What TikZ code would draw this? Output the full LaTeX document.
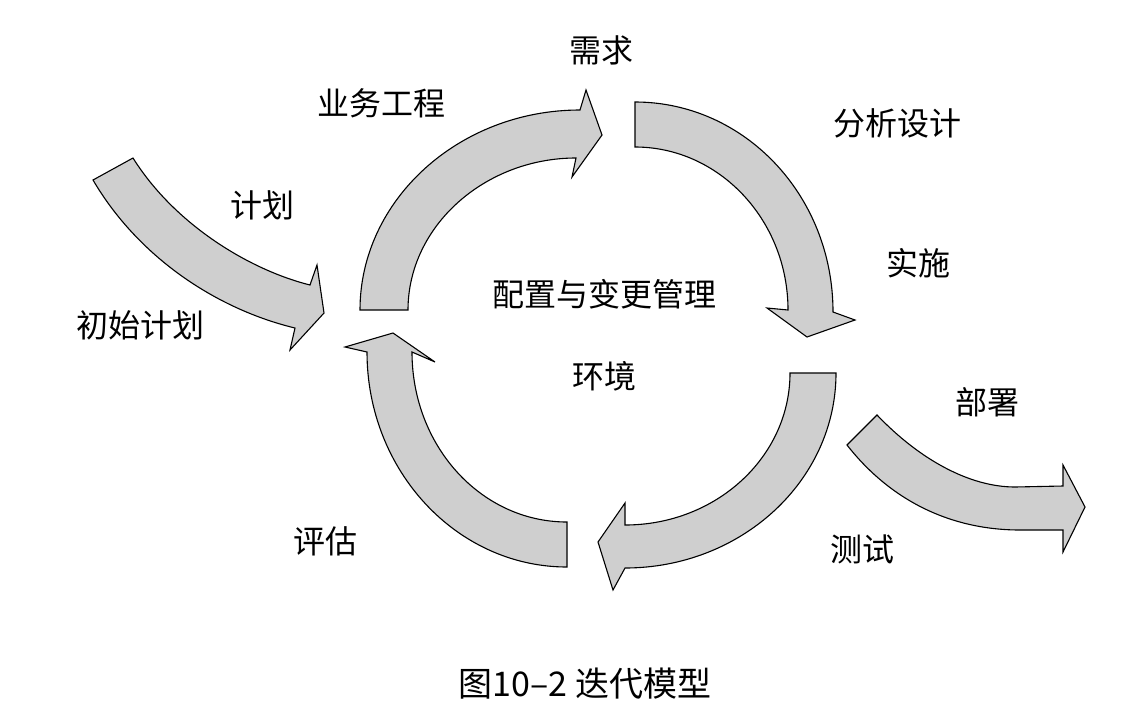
\documentclass[tikz,border=0pt]{standalone}
\usepackage{fontspec}
\setmainfont{Noto Sans CJK SC}
\begin{document}
\begin{tikzpicture}[x=1pt,y=-1pt,
  band/.style={draw=black, line width=1.1pt, fill=black!19, line join=miter},
  lbl/.style={font=\fontsize{32}{38}\selectfont, inner sep=0pt},
  captext/.style={font=\fontsize{34}{40}\selectfont, inner sep=0pt}]
\useasboundingbox (0,0) rectangle (1139,707);

% top-left ring arrow
\draw[band] (360,310) .. controls (360,200) and (459,110) .. (580,110)
  -- (586,90) -- (602,135) -- (572,177) -- (576,158)
  .. controls (485,158) and (408,226) .. (408,310) -- cycle;
% top-right ring arrow
\draw[band] (635,102) .. controls (744,102) and (833,195) .. (833,312)
  -- (855,320) -- (807,337) -- (767,308) -- (788,310)
  .. controls (788,220) and (719,147) .. (635,147) -- cycle;
% bottom-right ring arrow
\draw[band] (836,373) .. controls (836,481) and (741,568) .. (625,568)
  -- (613,590) -- (598,542) -- (625,503) -- (625,525)
  .. controls (716,525) and (790,457) .. (790,373) -- cycle;
% bottom-left ring arrow
\draw[band] (567,567) .. controls (457,567) and (367,471) .. (367,352)
  -- (345,347) -- (393,333) -- (435,362) -- (412,352)
  .. controls (412,446) and (481,522) .. (567,522) -- cycle;
% incoming arrow
\draw[band] (133,158) .. controls (175,225) and (250,270) .. (310,285)
  -- (317,265) -- (324,313) -- (290,350) -- (295,328)
  .. controls (220,310) and (140,260) .. (93,180) -- cycle;
% outgoing arrow
\draw[band] (877,415) .. controls (920,460) and (970,487) .. (1015,487)
  -- (1063,486) -- (1063,465) -- (1085,507) -- (1063,552) -- (1063,530)
  -- (1020,530) .. controls (950,530) and (890,500) .. (847,445) -- cycle;

\node[lbl] (req)  at (601,50)  {需求};
\node[lbl] (biz)  at (381,103) {业务工程};
\node[lbl] (ana)  at (897,123) {分析设计};
\node[lbl] (impl) at (918,263) {实施};
\node[lbl] (plan) at (262,205) {计划};
\node[lbl] (init) at (140,325) {初始计划};
\node[lbl] (cfg)  at (604,294) {配置与变更管理};
\node[lbl] (env)  at (604,376) {环境};
\node[lbl] (dep)  at (987,402) {部署};
\node[lbl] (test) at (862,549) {测试};
\node[lbl] (eval) at (325,541) {评估};
\node[captext] (caption) at (585,684) {图10–2 迭代模型};
\end{tikzpicture}
\end{document}
